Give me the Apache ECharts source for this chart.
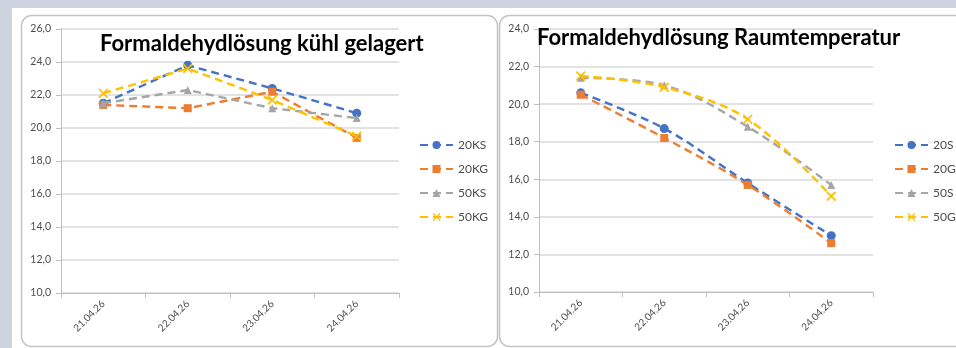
<!DOCTYPE html>
<html><head><meta charset="utf-8">
<script src="https://cdn.jsdelivr.net/npm/echarts@6/dist/echarts.min.js"></script>
<style>html,body{margin:0;padding:0;background:#cdd4df;}#c{width:956px;height:348px;}</style>
</head><body><div id="c"></div>
<script>
const categories = ['21.04.26','22.04.26','23.04.26','24.04.26'];
const leftTitle = 'Formaldehydlösung kühl gelagert';
const rightTitle = 'Formaldehydlösung Raumtemperatur';
const leftNames = ['20KS','20KG','50KS','50KG'];
const rightNames = ['20S','20G','50S','50G'];
const s20KS = [21.5, 23.8, 22.4, 20.9];
const s20KG = [21.4, 21.2, 22.2, 19.4];
const s50KS = [21.5, 22.3, 21.2, 20.6];
const s50KG = [22.1, 23.6, 21.7, 19.5];
const s20S = [20.6, 18.7, 15.8, 13.0];
const s20G = [20.5, 18.2, 15.7, 12.6];
const s50S = [21.4, 21.0, 18.8, 15.7];
const s50G = [21.5, 20.9, 19.2, 15.1];
const leftTicks = {min:10, max:26, interval:2};
const rightTicks = {min:10, max:24, interval:2};

const colors = ['#4472C4','#ED7D31','#A5A5A5','#FFC000'];
const xPath = 'path://M0,1.2L1.2,0L5,3.8L8.8,0L10,1.2L6.2,5L10,8.8L8.8,10L5,6.2L1.2,10L0,8.8L3.8,5Z';
const symbols = ['circle','rect','triangle',xPath];
const symSizes = [9,8,8,10];
const font = 'Lato, "Open Sans", sans-serif';
const fmt = v => v.toFixed(1).replace('.', ',');

function mkSeries(name, data, i, g, smooth){
  return {name, type:'line', data, xAxisIndex:g, yAxisIndex:g, smooth: smooth ? 0.35 : false,
    symbol:symbols[i], symbolSize:symSizes[i], showSymbol:true,
    lineStyle:{color:colors[i], width:2.4, type:[8,5]},
    itemStyle:{color:colors[i]}, z: 2+i};
}
function mkX(g){
  return {type:'category', data:categories, gridIndex:g, boundaryGap:true,
    axisLine:{lineStyle:{color:'#bfbfbf', width:1}},
    axisTick:{show:true, length:5, lineStyle:{color:'#bfbfbf'}},
    axisLabel:{rotate:45, margin:9, color:'#4d4d4d', fontSize:10, fontFamily:font}};
}
function mkY(g, t){
  return {type:'value', gridIndex:g, min:t.min, max:t.max, interval:t.interval,
    axisLine:{show:true, lineStyle:{color:'#bfbfbf', width:1}},
    axisTick:{show:true, length:5, lineStyle:{color:'#bfbfbf'}},
    splitLine:{lineStyle:{color:'#d9d9d9', width:1.5}},
    axisLabel:{margin:10, color:'#4d4d4d', fontSize:10.5, fontFamily:font, formatter:fmt}};
}
const leftData = [s20KS, s20KG, s50KS, s50KG];
const rightData = [s20S, s20G, s50S, s50G];
const series = [];
leftNames.forEach((n,i)=>series.push(mkSeries(n, leftData[i], i, 0, false)));
rightNames.forEach((n,i)=>series.push(mkSeries(n, rightData[i], i, 1, true)));

const chart = echarts.init(document.getElementById('c'), null, {renderer:'canvas'});
chart.setOption({
  animation:false,
  backgroundColor:'transparent',
  graphic:[
    {type:'rect', z:-10, shape:{x:12, y:8, width:960, height:350}, style:{fill:'#ffffff'}},
    {type:'rect', z:-9, shape:{x:21.5, y:15.5, width:476, height:331, r:10}, style:{fill:'#ffffff', stroke:'#c4c4c4', lineWidth:1.5}},
    {type:'rect', z:-9, shape:{x:499.5, y:15.5, width:480, height:331, r:10}, style:{fill:'#ffffff', stroke:'#c4c4c4', lineWidth:1.5}}
  ],
  title:[
    {text:leftTitle, left:100, top:33, textStyle:{fontFamily:font, fontWeight:'bold', fontSize:22, color:'#000'}, padding:0},
    {text:rightTitle, left:537, top:27, textStyle:{fontFamily:font, fontWeight:'bold', fontSize:22, color:'#000'}, padding:0}
  ],
  grid:[
    {left:61, top:29, width:338, height:264, containLabel:false},
    {left:539, top:29, width:334, height:263, containLabel:false}
  ],
  xAxis:[mkX(0), mkX(1)],
  yAxis:[mkY(0,leftTicks), mkY(1,rightTicks)],
  legend:[
    {data:leftNames, orient:'vertical', left:419, top:139, itemWidth:33, itemHeight:10, itemGap:12, padding:0,
      textStyle:{fontFamily:font, fontSize:12, color:'#4d4d4d'}},
    {data:rightNames, orient:'vertical', left:894, top:139, itemWidth:33, itemHeight:10, itemGap:12, padding:0,
      textStyle:{fontFamily:font, fontSize:12, color:'#4d4d4d'}}
  ],
  series
});
</script></body></html>
